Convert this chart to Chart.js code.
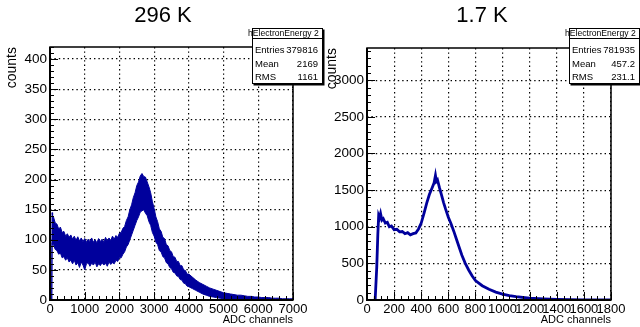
<!DOCTYPE html>
<html>
<head>
<meta charset="utf-8">
<script src="https://cdn.jsdelivr.net/npm/chart.js@4/dist/chart.umd.min.js"></script>
<style>
    body { margin: 0; background: #fff; }
    #wrap { position: relative; width: 640px; height: 327px; overflow: hidden; font-family: "Liberation Sans", Arial, sans-serif; }
    canvas { position: absolute; top: 0; }
    .title { position: absolute; top: 2px; width: 200px; text-align: center; font-size: 22px; line-height: 26px; color: #000; }
    .stats { position: absolute; top: 28px; height: 54px; border: 1px solid #000; background: #fff; box-shadow: 1.5px 1.5px 0 #000; }
    .stats .sep { position: absolute; left: 0; right: 0; top: 9px; border-top: 1px solid #000; }
    .stats .row { position: absolute; left: 2px; right: 4px; font-size: 9.5px; line-height: 11px; display: flex; justify-content: space-between; }
    .stitle { position: absolute; top: 28px; height: 11px; overflow: hidden; white-space: nowrap; font-size: 8.6px; line-height: 11px; }
</style>
</head>
<body>
<div id="wrap">
    <canvas id="left" width="320" height="327" style="left:0"></canvas>
    <canvas id="right" width="320" height="327" style="left:320px"></canvas>

    <div class="title" style="left:63px">296 K</div>
    <div class="title" style="left:382px">1.7 K</div>

    <div class="stats" style="left:252px; width:69px">
        <div class="sep"></div>
        <div class="row" style="top:15px"><span>Entries</span><span>379816</span></div>
        <div class="row" style="top:29px"><span>Mean</span><span>2169</span></div>
        <div class="row" style="top:42px"><span>RMS</span><span>1161</span></div>
    </div>
    <div class="stitle" style="left:248px; width:73px">hElectronEnergy 2</div>

    <div class="stats" style="left:569px; width:69px">
        <div class="sep"></div>
        <div class="row" style="top:15px"><span>Entries</span><span>781935</span></div>
        <div class="row" style="top:29px"><span>Mean</span><span>457.2</span></div>
        <div class="row" style="top:42px"><span>RMS</span><span>231.1</span></div>
    </div>
    <div class="stitle" style="left:565px; width:73px">hElectronEnergy 2</div>
</div>

<script>
"use strict";

// 296 K histogram: noisy band, kept as upper / lower envelope
const leftChannels = [50, 60, 75,
    100, 150, 200, 250, 300, 350, 400, 450, 500, 550,
    600, 650, 700, 750, 800, 850, 900, 950, 1000, 1050,
    1100, 1150, 1200, 1250, 1300, 1350, 1400, 1450, 1500, 1550,
    1600, 1650, 1700, 1750, 1800, 1850, 1900, 1950, 2000, 2050,
    2100, 2150, 2200, 2250, 2300, 2350, 2400, 2450, 2500, 2550,
    2600, 2650, 2700, 2750, 2800, 2850, 2900, 2950, 3000, 3050,
    3100, 3150, 3200, 3250, 3300, 3350, 3400, 3450, 3500, 3550,
    3600, 3650, 3700, 3750, 3800, 3850, 3900, 3950, 4000,
    4100, 4200, 4300, 4400, 4500, 4600, 4700, 4800, 4900, 5000,
    5100, 5200, 5300, 5400, 5500, 5600, 5700, 5800, 5900, 6000,
    6100, 6200, 6300, 6400, 6500, 6600, 6700, 6800, 6900, 7000];
const leftUpper = [0, 145, 140,
    138, 128, 126, 118, 121, 112, 114, 106, 110, 104,
    108, 101, 106, 99, 105, 98, 103, 97, 102, 96,
    101, 97, 103, 96, 100, 95, 102, 97, 101, 96,
    104, 98, 103, 99, 106, 101, 107, 104, 111, 112,
    119, 122, 132, 138, 150, 158, 170, 178, 190, 196,
    206, 210, 205, 204, 196, 188, 178, 163, 152, 138,
    130, 118, 114, 104, 102, 92, 90, 82, 80, 72,
    71, 64, 64, 57, 57, 50, 49, 43, 43,
    38, 33, 29, 26, 23, 20, 18, 16, 14, 12,
    11, 10, 9, 8, 8, 7, 6, 6, 5, 5,
    4, 4, 4, 3, 3, 3, 2, 2, 2, 2];
const leftLower = [0, 95, 92,
    92, 84, 82, 76, 78, 70, 72, 66, 70, 63,
    66, 60, 66, 58, 62, 54, 63, 58, 50, 60,
    62, 56, 61, 58, 63, 55, 60, 57, 62, 58,
    61, 56, 63, 59, 62, 60, 66, 64, 70, 70,
    76, 80, 88, 92, 100, 108, 116, 124, 132, 138,
    146, 148, 150, 144, 140, 130, 124, 112, 106, 96,
    92, 82, 80, 72, 70, 62, 60, 54, 52, 46,
    45, 40, 39, 34, 33, 28, 27, 23, 22,
    19, 16, 13, 10, 8, 6, 5, 4, 3, 2,
    1, 1, 0, 0, 0, 0, 0, 0, 0, 0,
    0, 0, 0, 0, 0, 0, 0, 0, 0, 0];

// 1.7 K histogram: thin curve
const rightChannels = [60, 64, 72, 80, 86, 92, 100, 110, 120, 135, 150, 165, 180,
    200, 220, 240, 260, 280, 300, 320, 340, 360, 380, 400, 420, 440, 460, 480,
    495, 505, 512, 520, 535, 550, 565, 580, 600, 620, 640, 660, 680, 700, 725,
    750, 775, 800, 850, 900, 950, 1000, 1050, 1100, 1200, 1300, 1400, 1500,
    1600, 1700, 1800];
const rightCounts = [0, 0, 450, 900, 1150, 1120, 1180, 1090, 1110, 1050, 1060, 1000, 1010,
    960, 965, 930, 935, 905, 920, 890, 905, 915, 970, 1050, 1180, 1320, 1440, 1530,
    1600, 1700, 1620, 1640, 1530, 1430, 1330, 1240, 1130, 1040, 940, 830, 720, 610, 500,
    410, 330, 265, 195, 146, 108, 80, 60, 45, 24, 14, 8, 5,
    3, 2, 1];

// axis ticks
const leftXTicks = [0, 1000, 2000, 3000, 4000, 5000, 6000, 7000];
const leftYTicks = [0, 50, 100, 150, 200, 250, 300, 350, 400];
const rightXTicks = [0, 200, 400, 600, 800, 1000, 1200, 1400, 1600, 1800];
const rightYTicks = [0, 500, 1000, 1500, 2000, 2500, 3000];

const BLUE = "#00009c";
const FONT = "'Liberation Sans', Arial, sans-serif";

Chart.defaults.color = "#000";
Chart.defaults.font.family = FONT;

function points(xs, ys) {
    return xs.map((x, i) => ({ x, y: ys[i] }));
}

// ROOT style frame with inner major / minor ticks
const rootFrame = {
    id: "rootFrame",
    afterDraw(chart, args, opts) {
        const { ctx, chartArea: area, scales: { x, y } } = chart;
        ctx.save();
        ctx.strokeStyle = "#000";
        ctx.lineWidth = 1;
        ctx.beginPath();
        for (let v = x.min; v <= x.max + 1e-6; v += opts.xMinor) {
            const px = Math.round(x.getPixelForValue(v)) + 0.5;
            const len = Math.abs(v % opts.xMajor) < 1e-6 ? 8 : 4;
            ctx.moveTo(px, area.bottom);
            ctx.lineTo(px, area.bottom - len);
        }
        for (let v = y.min; v <= y.max + 1e-6; v += opts.yMinor) {
            const py = Math.round(y.getPixelForValue(v)) + 0.5;
            const len = Math.abs(v % opts.yMajor) < 1e-6 ? 8 : 4;
            ctx.moveTo(area.left, py);
            ctx.lineTo(area.left + len, py);
        }
        ctx.stroke();

        ctx.lineWidth = 1.5;
        ctx.strokeRect(area.left, area.top, area.right - area.left, area.bottom - area.top);
        ctx.lineWidth = 2;
        ctx.beginPath();
        ctx.moveTo(area.left, area.top);
        ctx.lineTo(area.left, area.bottom);
        ctx.lineTo(area.right, area.bottom);
        ctx.stroke();
        ctx.restore();
    }
};

function makeScales(xMax, yMax, xTicks, yTicks, yWidth) {
    const grid = { color: "#000", lineWidth: 1.2, drawTicks: false };
    const border = { display: false, dash: [1.4, 3] };
    return {
        x: {
            type: "linear",
            min: 0,
            max: xMax,
            afterBuildTicks: (s) => { s.ticks = xTicks.map((value) => ({ value })); },
            afterFit: (s) => { s.height = 27; },
            grid,
            border,
            ticks: { font: { size: 13 }, padding: 2, maxRotation: 0, autoSkip: false, callback: (v) => String(v) },
            title: { display: true, text: "ADC channels", align: "end", font: { size: 11 }, padding: 0 }
        },
        y: {
            min: 0,
            max: yMax,
            afterBuildTicks: (s) => { s.ticks = yTicks.map((value) => ({ value })); },
            afterFit: (s) => { s.width = yWidth; },
            grid,
            border,
            ticks: { font: { size: 13.5 }, padding: 3, autoSkip: false, callback: (v) => String(v) },
            title: { display: true, text: "counts", align: "end", font: { size: 14 }, padding: { top: 4, bottom: 0 } }
        }
    };
}

function baseOptions(padding, scales, frame) {
    return {
        responsive: false,
        animation: false,
        layout: { padding },
        elements: { point: { radius: 0 }, line: { tension: 0 } },
        plugins: {
            legend: { display: false },
            tooltip: { enabled: false },
            rootFrame: frame
        },
        scales
    };
}

new Chart(document.getElementById("left"), {
    type: "line",
    data: {
        datasets: [
            {
                data: points(leftChannels, leftUpper),
                borderColor: BLUE,
                backgroundColor: BLUE,
                borderWidth: 1,
                fill: "+1"
            },
            {
                data: points(leftChannels, leftLower),
                borderColor: BLUE,
                borderWidth: 1,
                fill: false
            }
        ]
    },
    options: baseOptions({ top: 47, right: 27, left: 0, bottom: 0 },
        makeScales(7000, 420, leftXTicks, leftYTicks, 50),
        { xMinor: 200, xMajor: 1000, yMinor: 10, yMajor: 50 }),
    plugins: [rootFrame]
});

new Chart(document.getElementById("right"), {
    type: "line",
    data: {
        datasets: [
            {
                data: points(rightChannels, rightCounts),
                borderColor: BLUE,
                borderWidth: 2.8,
                fill: false
            }
        ]
    },
    options: baseOptions({ top: 48, right: 29, left: 0, bottom: 0 },
        makeScales(1800, 3440, rightXTicks, rightYTicks, 47),
        { xMinor: 50, xMajor: 200, yMinor: 100, yMajor: 500 }),
    plugins: [rootFrame]
});
</script>
</body>
</html>
